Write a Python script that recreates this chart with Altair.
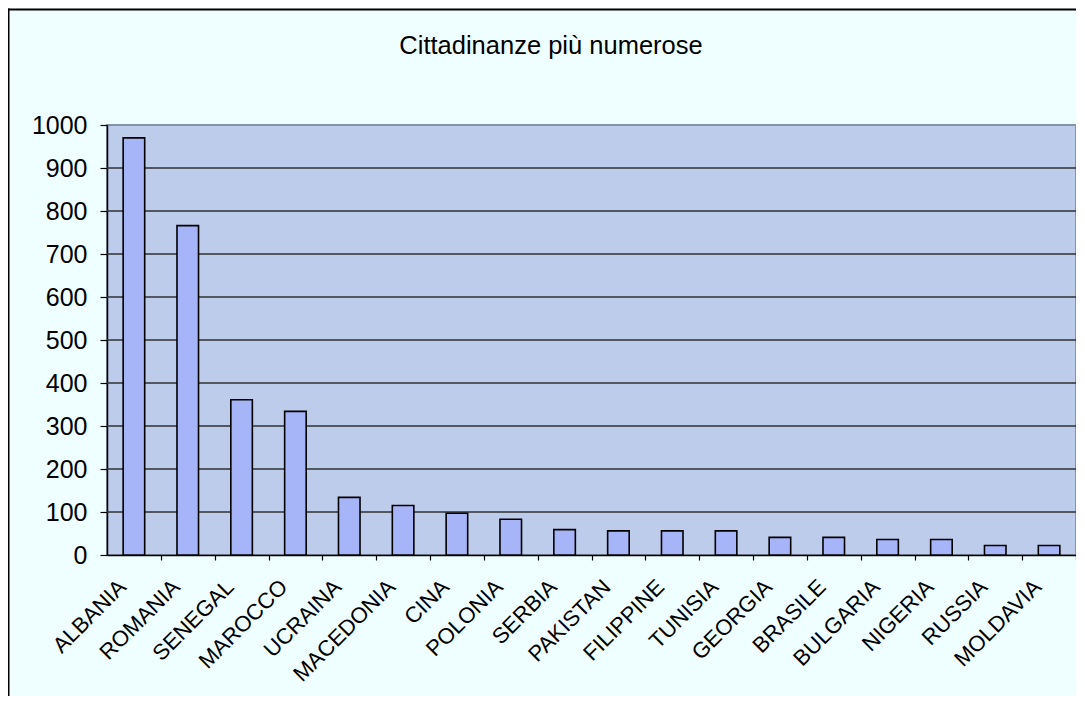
import altair as alt
import pandas as pd

countries = ["ALBANIA", "ROMANIA", "SENEGAL", "MAROCCO", "UCRAINA", "MACEDONIA",
             "CINA", "POLONIA", "SERBIA", "PAKISTAN", "FILIPPINE", "TUNISIA",
             "GEORGIA", "BRASILE", "BULGARIA", "NIGERIA", "RUSSIA", "MOLDAVIA"]
values = [970, 766, 361, 334, 134, 115, 97, 83, 59, 56, 56, 56, 41, 41, 36, 36, 22, 22]
y_ticks = list(range(0, 1001, 100))
grid_values = list(range(100, 901, 100))
title_text = "Cittadinanze più numerose"

W, H = 969, 430
step = W / len(countries)
FONT = "Liberation Sans"

df = pd.DataFrame({"paese": countries, "valore": values})
y_scale = alt.Scale(domain=[0, 1000], nice=False)
y_axis = alt.Axis(values=y_ticks, format="d", labelFontSize=25, labelFont=FONT,
                  labelColor="black", labelPadding=13,
                  tickSize=7, tickColor="black", tickWidth=1.2,
                  domainColor="black", domainWidth=1.5, grid=False)

grid = alt.Chart(pd.DataFrame({"g": grid_values})).mark_rule(
    color="#303030", strokeWidth=1.3
).encode(
    y=alt.Y("g:Q", scale=y_scale, axis=y_axis, title=None),
    x=alt.value(0), x2=alt.value(W),
)

bars = alt.Chart(df).mark_bar(
    fill="#A6B5F8", stroke="black", strokeWidth=1.6
).encode(
    x=alt.X("paese:N", sort=None, title=None,
            scale=alt.Scale(paddingInner=0.6, paddingOuter=0.3),
            axis=alt.Axis(labelAngle=-45, labelAlign="right", labelBaseline="middle",
                          labelFontSize=22, labelFont=FONT, labelColor="black",
                          labelPadding=23, tickOffset=step / 2,
                          labelOffset=-step / 2 - 12,
                          tickSize=5, tickColor="black", tickWidth=1.2,
                          domainColor="black", domainWidth=1.5, grid=False,
                          labelOverlap=False)),
    y=alt.Y("valore:Q", title=None, scale=y_scale, axis=y_axis),
)

frame_df = pd.DataFrame({"k": [0]})
frame_left = alt.Chart(frame_df).mark_rule(color="black", strokeWidth=2).encode(
    x=alt.value(-98.5), y=alt.value(-116.5), y2=alt.value(H + 400)
)
frame_top = alt.Chart(frame_df).mark_rule(color="black", strokeWidth=2).encode(
    x=alt.value(-99.5), x2=alt.value(W + 60), y=alt.value(-115.5)
)

title = alt.Chart(pd.DataFrame({"t": [title_text]})).mark_text(
    font=FONT, fontSize=25.5, color="black", align="center", baseline="middle"
).encode(
    x=alt.value(444), y=alt.value(-79), text="t:N"
)

chart = alt.layer(frame_left, frame_top, grid, bars, title).resolve_scale(
    y="shared"
).properties(
    width=W, height=H,
    autosize=alt.AutoSizeParams(type="none"),
    padding={"left": 99, "top": 117, "right": 0, "bottom": 141},
    background="#EFFEFE",
).configure_view(
    fill="#BCCCEA", stroke="#8494A8", strokeWidth=2
)

chart.save("out.html", embed_options={"renderer": "svg", "actions": False})
